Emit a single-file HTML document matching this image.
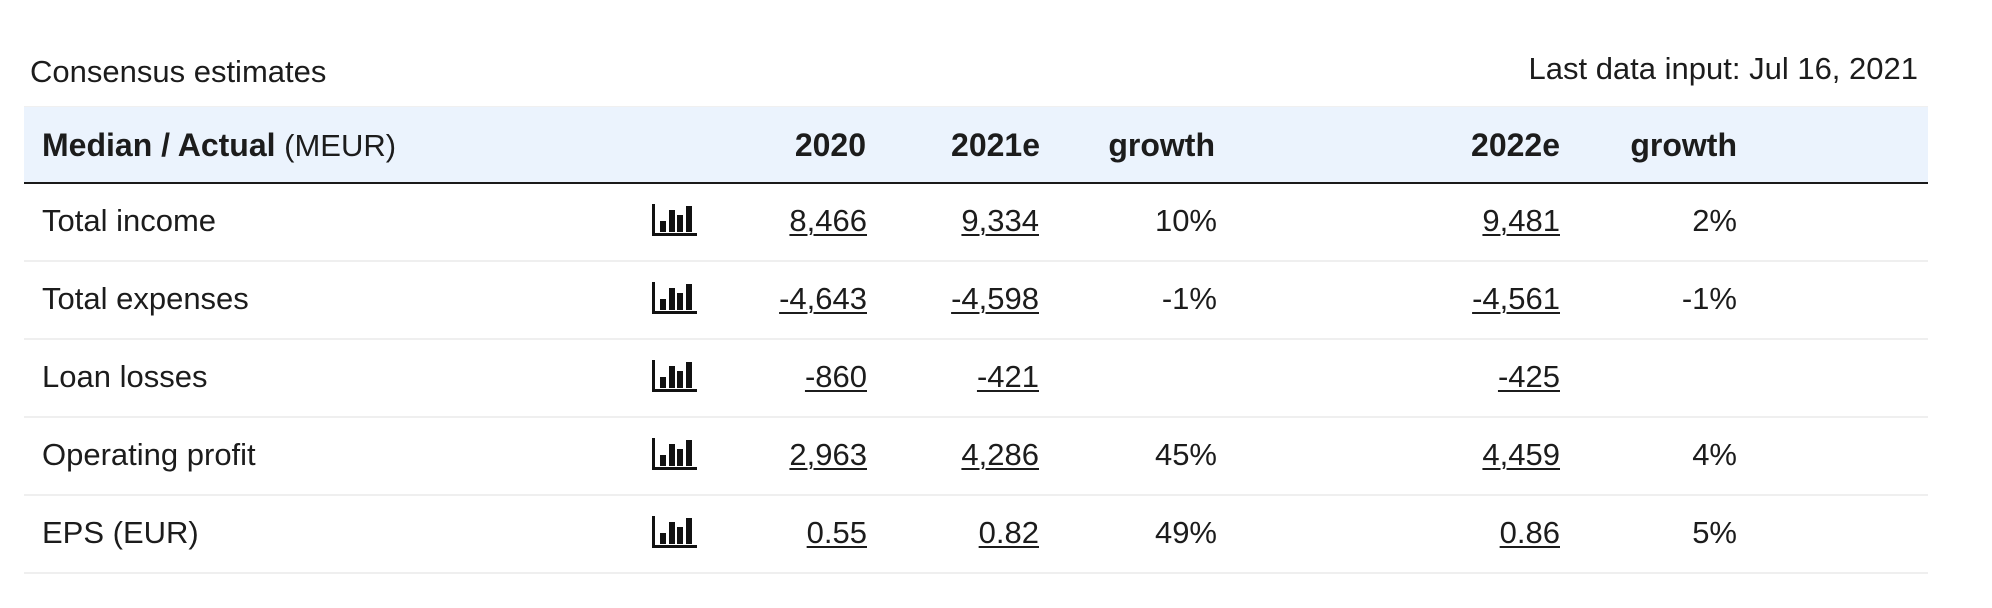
<!DOCTYPE html>
<html>
<head>
<meta charset="utf-8">
<style>
  html, body { margin:0; padding:0; background:#fff; }
  body { width:1992px; height:608px; position:relative; overflow:hidden;
         font-family:"Liberation Sans", sans-serif; color:#1c1c1c; }
  .t { position:absolute; font-size:31px; line-height:34px; white-space:nowrap; }
  .b { font-weight:bold; font-size:32px; }
  .r { text-align:right; width:300px; }
  .u { text-decoration:underline; text-decoration-thickness:2px; text-underline-offset:3px; }
  .band { position:absolute; left:24px; top:106px; width:1904px; height:76px; background:#ebf3fd; border-top:1px solid #f0f0f0; box-sizing:border-box; }
  .hline { position:absolute; left:24px; top:182px; width:1904px; height:2px; background:#1a1a1a; }
  .sep { position:absolute; left:24px; width:1904px; height:2px; background:#efefef; }
  .ic { position:absolute; left:652px; width:45px; height:32px; }
</style>
</head>
<body>
  <div class="t" style="left:30px; top:55px;">Consensus estimates</div>
  <div class="t" style="left:1418px; width:500px; text-align:right; top:52px;">Last data input: Jul 16, 2021</div>

  <div class="band"></div>
  <div class="hline"></div>

  <div class="t" style="left:42px; top:128px;"><span class="b">Median / Actual</span> (MEUR)</div>
  <div class="t b r" style="left:566px; top:128px;">2020</div>
  <div class="t b r" style="left:740px; top:128px;">2021e</div>
  <div class="t b r" style="left:915px; top:128px;">growth</div>
  <div class="t b r" style="left:1260px; top:128px;">2022e</div>
  <div class="t b r" style="left:1437px; top:128px;">growth</div>

  <!-- separators -->
  <div class="sep" style="top:260px;"></div>
  <div class="sep" style="top:338px;"></div>
  <div class="sep" style="top:416px;"></div>
  <div class="sep" style="top:494px;"></div>
  <div class="sep" style="top:572px;"></div>

  <!-- Row 1 -->
  <div class="t" style="left:42px; top:204px;">Total income</div>
  <svg class="ic" style="top:204px;" viewBox="0 0 45 32"><rect x="0" y="0" width="3" height="32" fill="#111"/><rect x="0" y="29" width="45" height="3" fill="#111"/><rect x="8" y="17" width="6" height="11" fill="#111"/><rect x="17" y="6" width="6" height="22" fill="#111"/><rect x="25" y="11" width="6" height="17" fill="#111"/><rect x="34" y="2" width="6" height="26" fill="#111"/></svg>
  <div class="t r" style="left:567px; top:204px;"><span class="u">8,466</span></div>
  <div class="t r" style="left:739px; top:204px;"><span class="u">9,334</span></div>
  <div class="t r" style="left:917px; top:204px;">10%</div>
  <div class="t r" style="left:1260px; top:204px;"><span class="u">9,481</span></div>
  <div class="t r" style="left:1437px; top:204px;">2%</div>

  <!-- Row 2 -->
  <div class="t" style="left:42px; top:282px;">Total expenses</div>
  <svg class="ic" style="top:282px;" viewBox="0 0 45 32"><rect x="0" y="0" width="3" height="32" fill="#111"/><rect x="0" y="29" width="45" height="3" fill="#111"/><rect x="8" y="17" width="6" height="11" fill="#111"/><rect x="17" y="6" width="6" height="22" fill="#111"/><rect x="25" y="11" width="6" height="17" fill="#111"/><rect x="34" y="2" width="6" height="26" fill="#111"/></svg>
  <div class="t r" style="left:567px; top:282px;"><span class="u">-4,643</span></div>
  <div class="t r" style="left:739px; top:282px;"><span class="u">-4,598</span></div>
  <div class="t r" style="left:917px; top:282px;">-1%</div>
  <div class="t r" style="left:1260px; top:282px;"><span class="u">-4,561</span></div>
  <div class="t r" style="left:1437px; top:282px;">-1%</div>

  <!-- Row 3 -->
  <div class="t" style="left:42px; top:360px;">Loan losses</div>
  <svg class="ic" style="top:360px;" viewBox="0 0 45 32"><rect x="0" y="0" width="3" height="32" fill="#111"/><rect x="0" y="29" width="45" height="3" fill="#111"/><rect x="8" y="17" width="6" height="11" fill="#111"/><rect x="17" y="6" width="6" height="22" fill="#111"/><rect x="25" y="11" width="6" height="17" fill="#111"/><rect x="34" y="2" width="6" height="26" fill="#111"/></svg>
  <div class="t r" style="left:567px; top:360px;"><span class="u">-860</span></div>
  <div class="t r" style="left:739px; top:360px;"><span class="u">-421</span></div>
  <div class="t r" style="left:1260px; top:360px;"><span class="u">-425</span></div>

  <!-- Row 4 -->
  <div class="t" style="left:42px; top:438px;">Operating profit</div>
  <svg class="ic" style="top:438px;" viewBox="0 0 45 32"><rect x="0" y="0" width="3" height="32" fill="#111"/><rect x="0" y="29" width="45" height="3" fill="#111"/><rect x="8" y="17" width="6" height="11" fill="#111"/><rect x="17" y="6" width="6" height="22" fill="#111"/><rect x="25" y="11" width="6" height="17" fill="#111"/><rect x="34" y="2" width="6" height="26" fill="#111"/></svg>
  <div class="t r" style="left:567px; top:438px;"><span class="u">2,963</span></div>
  <div class="t r" style="left:739px; top:438px;"><span class="u">4,286</span></div>
  <div class="t r" style="left:917px; top:438px;">45%</div>
  <div class="t r" style="left:1260px; top:438px;"><span class="u">4,459</span></div>
  <div class="t r" style="left:1437px; top:438px;">4%</div>

  <!-- Row 5 -->
  <div class="t" style="left:42px; top:516px;">EPS (EUR)</div>
  <svg class="ic" style="top:516px;" viewBox="0 0 45 32"><rect x="0" y="0" width="3" height="32" fill="#111"/><rect x="0" y="29" width="45" height="3" fill="#111"/><rect x="8" y="17" width="6" height="11" fill="#111"/><rect x="17" y="6" width="6" height="22" fill="#111"/><rect x="25" y="11" width="6" height="17" fill="#111"/><rect x="34" y="2" width="6" height="26" fill="#111"/></svg>
  <div class="t r" style="left:567px; top:516px;"><span class="u">0.55</span></div>
  <div class="t r" style="left:739px; top:516px;"><span class="u">0.82</span></div>
  <div class="t r" style="left:917px; top:516px;">49%</div>
  <div class="t r" style="left:1260px; top:516px;"><span class="u">0.86</span></div>
  <div class="t r" style="left:1437px; top:516px;">5%</div>
</body>
</html>
